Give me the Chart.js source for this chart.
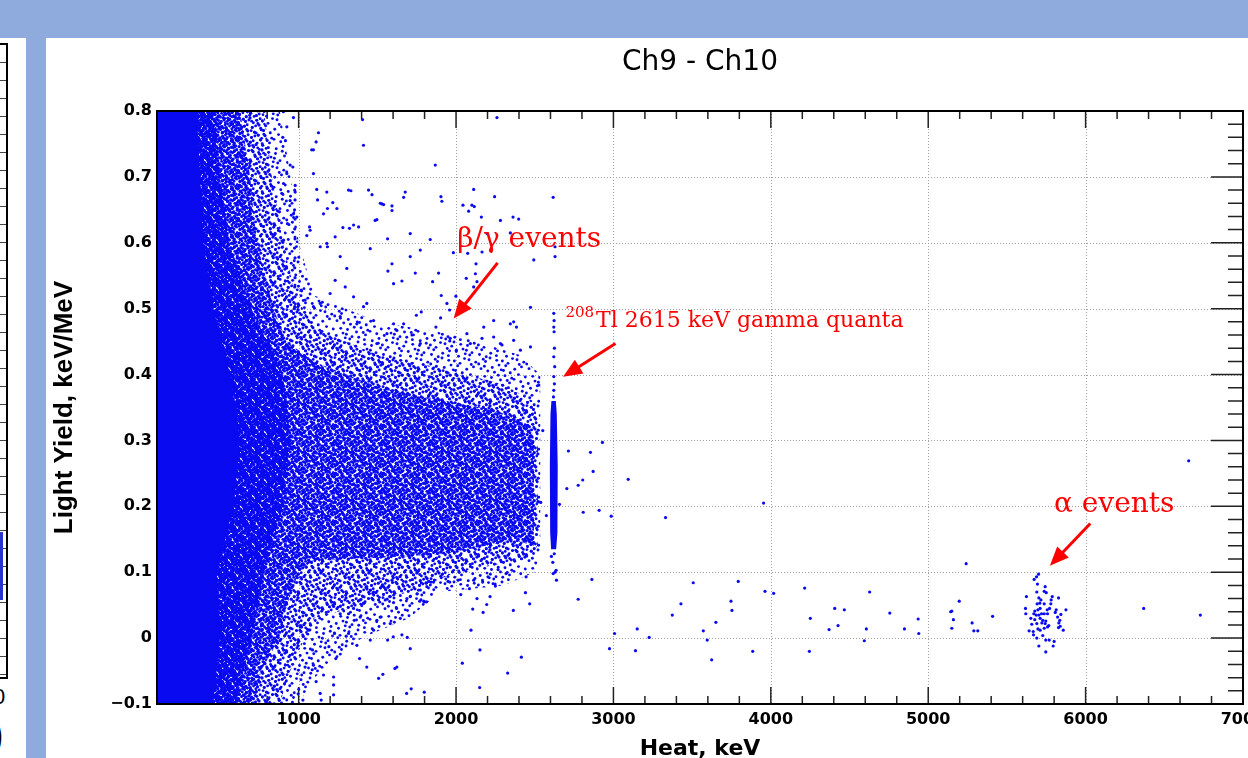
<!DOCTYPE html>
<html>
<head>
<meta charset="utf-8">
<script src="https://cdn.jsdelivr.net/npm/chart.js@4.4.0/dist/chart.umd.min.js"></script>
<style>
html, body { margin: 0; padding: 0; width: 1248px; height: 758px; overflow: hidden; background: #fff; }
body { position: relative; }
#band { position: absolute; left: 0; top: 0; width: 1248px; height: 38px; background: #8faadc; }
#strip { position: absolute; left: 26px; top: 38px; width: 20px; height: 720px; background: #8faadc; }
#sidebox { position: absolute; left: -20px; top: 43px; width: 24px; height: 632px; border: 2px solid #000;
  background: repeating-linear-gradient(to bottom, #fff 0, #fff 17px, #444 17px, #444 18px); }
#sideline { position: absolute; left: 0; top: 532px; width: 3px; height: 68px; background: #2a35d0; }
#side0 { position: absolute; left: -7px; top: 684px; font: 22px 'Liberation Sans'; }
#sidep { position: absolute; left: -9px; top: 714px; font: bold 36px 'Liberation Sans'; }
#wrap { position: absolute; left: 46px; top: 38px; width: 1240px; height: 760px; }
</style>
</head>
<body>
<div id="band"></div>
<div id="strip"></div>
<div id="sidebox"></div>
<div id="sideline"></div>
<div id="side0">0</div>
<div id="sidep">)</div>
<div id="wrap"><canvas id="chart" width="1240" height="760"></canvas></div>
<script>
// axis ticks
var xTicks = [1000, 2000, 3000, 4000, 5000, 6000, 7000];
var xTickLabels = ['1000', '2000', '3000', '4000', '5000', '6000', '7000'];
var yTicks = [-0.1, 0, 0.1, 0.2, 0.3, 0.4, 0.5, 0.6, 0.7, 0.8];
var yTickLabels = ['\u22120.1', '0', '0.1', '0.2', '0.3', '0.4', '0.5', '0.6', '0.7', '0.8'];

// density outlines of the crowded part of the cloud (heat keV, light yield)
var solidRegion = [[100,-0.1],[458,-0.1],[500,0.0],[480,0.1],[586,0.2],[628,0.3],[565,0.4],[458,0.5],[395,0.6],[374,0.7],[352,0.8],[100,0.8],[100,-0.1]];
var heavyRegion = [[100,-0.1],[600,-0.1],[700,0.0],[780,0.1],[900,0.2],[950,0.3],[900,0.4],[700,0.5],[560,0.6],[500,0.7],[470,0.8],[100,0.8],[100,-0.1]];
var denseRegion = [[100,-0.1],[720,-0.1],[760,-0.05],[880,0.0],[925,0.05],[1000,0.1],[1094,0.118],[1518,0.122],[1942,0.128],[2366,0.149],[2495,0.14],[2495,0.30],[2472,0.322],[2260,0.345],[1942,0.36],[1518,0.38],[1094,0.42],[925,0.45],[840,0.5],[734,0.6],[692,0.7],[628,0.8],[100,0.8],[100,-0.1]];
var mediumRegion = [[100,-0.1],[880,-0.1],[930,-0.06],[1000,-0.02],[1100,0.03],[1400,0.05],[1700,0.07],[2000,0.1],[2450,0.12],[2520,0.14],[2520,0.33],[2490,0.36],[2300,0.385],[1900,0.41],[1500,0.43],[1100,0.47],[980,0.52],[900,0.6],[830,0.7],[780,0.8],[100,0.8],[100,-0.1]];
var lightRegion = [[100,-0.1],[1000,-0.1],[1100,-0.06],[1200,-0.04],[1400,0.0],[1700,0.03],[1900,0.07],[2300,0.08],[2500,0.1],[2535,0.13],[2535,0.4],[2400,0.43],[2000,0.46],[1500,0.48],[1100,0.52],[1000,0.6],[950,0.7],[880,0.8],[100,0.8],[100,-0.1]];
var tlCore = [[2604,0.135],[2598,0.16],[2596,0.26],[2600,0.34],[2606,0.36],[2634,0.36],[2640,0.34],[2646,0.26],[2644,0.16],[2636,0.135],[2604,0.135]];

// single events
var highPts = [[903,0.799],[967,0.79],[925,0.776],[899,0.76],[916,0.755],[946,0.718],[963,0.715],[925,0.705],[904,0.69],[893,0.675],[978,0.687],[978,0.677],[946,0.664],[878,0.647],[967,0.644],[988,0.639],[929,0.629],[850,0.614],[904,0.604],
  [1406,0.787],[1412,0.748],[1126,0.767],[1111,0.753],[1094,0.741],[1083,0.741],[1094,0.705],[1868,0.718],[2260,0.79],[1904,0.67],[1910,0.663],[2112,0.681],[2245,0.67],[2362,0.639],[1529,0.659],[1540,0.658],[1593,0.656],[1593,0.649],[1497,0.635],[1677,0.677],[1444,0.68],[1317,0.68],[1332,0.679],[1179,0.677],[1115,0.681],[1120,0.665],[1243,0.652],[1349,0.627],[1281,0.623],[1381,0.624],[1232,0.609],[1069,0.624],[1052,0.611],[1183,0.594],[1264,0.579],[1306,0.561],[1567,0.557],[1593,0.568],[1603,0.538],[1656,0.542],[1709,0.579],[1741,0.554],[1773,0.589],[1836,0.605],[1851,0.541],[1889,0.554],[1983,0.585],[2065,0.546],[2112,0.533],[2074,0.584],[2127,0.568],[2165,0.586],[2197,0.614],[2345,0.615],[2101,0.657],[1906,0.52],[1942,0.508],[1959,0.498],[1902,0.486],[1872,0.472],[1779,0.495],[1748,0.49],[1667,0.477],[1624,0.467],[1561,0.462],[1476,0.482],[1412,0.503],[1433,0.508],[1349,0.518],[1296,0.533],[1232,0.543],[1200,0.523],[1137,0.508],[1094,0.503],[1041,0.513],[1016,0.528],[1264,0.488],[1370,0.477],[1497,0.447],[1603,0.477],[1720,0.46],[1773,0.447],[1963,0.455],[2002,0.437],[2069,0.462],[2091,0.447],[2165,0.455],[2239,0.482],[2282,0.447],[2366,0.452],[2366,0.48],
  [2044,0.657],[2080,0.648],[2116,0.655],[2161,0.639],[2282,0.634],[2398,0.636],[2494,0.574],[2473,0.502],[2123,0.553],[2133,0.541],[1999,0.519],[2176,0.472],[2345,0.477],[2384,0.472],[1960,0.451],[2239,0.457],[2292,0.445],[2409,0.437],[2526,0.384],[2473,0.442],
  [1217,0.661],[1183,0.652],[1158,0.644],[1466,0.673],[1519,0.66],[1667,0.669],[1486,0.634],[1709,0.614],[1565,0.606],[1323,0.622],[1179,0.599],[1137,0.594],[1455,0.591],[1073,0.619],
  [975,0.68],[977,0.665],[974,0.65],[977,0.636],[975,0.621],[977,0.606],[974,0.592],[977,0.577],[975,0.562],[977,0.547],[975,0.533],[977,0.518],[975,0.503]];
var lowPts = [[1709,-0.016],[1690,0.001],[1601,0.002],[1565,-0.003],[1508,0.058],[1455,-0.003],[1433,-0.044],[1508,-0.061],[1535,-0.055],[1387,-0.031],[1370,-0.011],[1624,-0.044],[1612,-0.046],[1715,-0.077],[1686,-0.084],[1302,0.003],[1317,0.007],[1228,0.007],[1192,-0.013],[1236,-0.031],[1222,-0.059],[1222,-0.071],[1222,-0.086],[1137,-0.084],[1143,-0.094],[1158,-0.056],[1111,-0.066],[1086,-0.048],[1041,-0.044],[1027,-0.094],[1094,-0.041],[1063,0.012],[1010,0.017],[1088,-0.018],
  [1779,0.084],[1809,0.084],[1769,0.056],[1794,0.056],[1857,0.085],[1949,0.086],
  [1317,0.037],[1349,0.045],[1412,0.053],[1497,0.027],[1518,0.032],[1550,0.058],[1578,0.063],[1603,0.054],[1622,0.045],[1688,0.06],[1709,0.063],[1752,0.067],[1773,0.073],[1826,0.086],[1476,0.07],[1540,0.078],[1593,0.088],[1433,0.078],[1391,0.058],[1353,0.027],[1264,0.037],[1222,0.048],[1391,0.032],[1476,0.012],[1582,0.022],[1646,0.03],[1656,0.005],
  [2445,0.093],[2441,0.069],[2468,0.052],[2364,0.042],[2318,0.098],[2248,0.082],[2250,0.079],[2216,0.063],[2195,0.051],[2172,0.039],[2106,0.044],[2133,0.06],[2112,0.088],[2085,0.075],[2030,0.066],[2013,0.088],[2169,0.085],[2095,0.012],[2152,-0.018],[2040,-0.038],[2415,-0.029],[2328,-0.053],[2150,-0.075],[1798,-0.082],[1960,0.085],[1841,0.085],[1815,0.078],[1800,0.055],[1812,0.055],[1792,0.108],[2267,0.104],[2203,0.093]];
var tlLinePts = [[2617,0.669],[2629,0.594],[2629,0.579],[2621,0.493],[2623,0.482],[2621,0.472],[2623,0.465],[2625,0.44],[2621,0.427],[2627,0.412],[2621,0.397],[2625,0.386],[2621,0.376],[2619,0.366],[2617,0.098],[2629,0.1],[2636,0.103],[2638,0.088],[2606,0.124],[2624,0.128],[2615,0.115],
  [2574,0.186],[2538,0.206],[2551,0.315],[2523,0.207]];
var farPts = [[2930,0.297],[2714,0.284],[2854,0.282],[2871,0.253],[2805,0.24],[2776,0.232],[2704,0.227],[3094,0.241],[2657,0.203],[2808,0.191],[2909,0.194],[2986,0.185],[3954,0.205],[3331,0.183],[2863,0.089],[2776,0.059],[3507,0.084],[3793,0.086],[3429,0.052],[3374,0.035],[3747,0.056],[3753,0.042],[3963,0.071],[4018,0.068],[4215,0.076],[4251,0.03],[4370,0.013],[3651,0.024],[3571,0.011],[3596,-0.003],[3151,0.014],[3227,0.001],[3007,0.007],[2975,-0.016],[3140,-0.019],[3624,-0.033],[3885,-0.02],[4245,-0.02],
  [6655,0.269],[6369,0.045],[6729,0.035],[5241,0.113],[5197,0.056],[5143,0.04],[5150,0.041],[5160,0.028],[5150,0.015],[5279,0.023],[5290,0.011],[5315,0.011],[5409,0.033],[4628,0.07],[4756,0.038],[4406,0.045],[4467,0.043],[4427,0.019],[4607,0.014],[4594,-0.004],[4849,0.014],[4936,0.029],[4940,0.007]];
var alphaPts = [[5673,0.089],[5688,0.093],[5701,0.097],[5694,0.082],[5743,0.078],[5690,0.07],[5737,0.071],[5750,0.069],[5624,0.063],[5703,0.061],[5716,0.058],[5788,0.063],[5828,0.061],[5709,0.053],[5692,0.052],[5737,0.052],[5779,0.052],[5618,0.045],[5677,0.041],[5697,0.043],[5711,0.045],[5756,0.043],[5771,0.045],[5813,0.043],[5875,0.043],[5620,0.037],[5671,0.037],[5686,0.035],[5703,0.035],[5720,0.037],[5737,0.037],[5758,0.037],[5843,0.036],[5652,0.03],[5677,0.028],[5711,0.03],[5728,0.027],[5747,0.026],[5822,0.032],[5658,0.021],[5690,0.022],[5722,0.023],[5743,0.022],[5766,0.019],[5830,0.023],[5839,0.018],[5641,0.011],[5667,0.01],[5697,0.014],[5711,0.012],[5737,0.015],[5758,0.017],[5858,0.012],[5669,0.005],[5690,0.0],[5728,0.004],[5747,-0.003],[5769,-0.003],[5800,-0.005],[5703,-0.012],[5794,-0.012],[5747,-0.021],[5828,0.016],[5836,0.027],[5807,0.039],[5781,0.058]];

var blue = '#0a0af0';
var red = '#ff0000';

function toXY(arr) {
    return arr.map(function (p) { return { x: p[0], y: p[1] }; });
}

// speckle texture for the crowded regions: a tile of evenly spread dots (Halton layout)
function halton(i, b) {
    let f = 1, r = 0;
    while (i > 0) {
        f = f / b;
        r += f * (i % b);
        i = Math.floor(i / b);
    }
    return r;
}
function makePattern(count) {
    let size = 48;
    let c = document.createElement('canvas');
    c.width = size;
    c.height = size;
    let g = c.getContext('2d');
    g.fillStyle = blue;
    for (let n = 1; n <= count; n++) {
        let px = halton(n, 2) * size, py = halton(n, 3) * size;
        for (let dx = -size; dx <= size; dx += size) {
            for (let dy = -size; dy <= size; dy += size) {
                g.beginPath();
                g.arc(px + dx, py + dy, 1.45, 0, Math.PI * 2);
                g.fill();
            }
        }
    }
    return g.createPattern(c, 'repeat');
}

function regionSet(arr, fillStyle, order) {
    return {
        type: 'line', data: toXY(arr), showLine: true, fill: 'shape',
        backgroundColor: fillStyle, borderColor: 'rgba(0,0,0,0)', borderWidth: 0,
        pointRadius: 0, pointHoverRadius: 0, clip: 0, order: order, tension: 0
    };
}
function pointSet(arr) {
    return {
        data: toXY(arr), backgroundColor: blue, borderWidth: 0,
        pointRadius: 1.6, pointHoverRadius: 1.6, clip: 0, order: 0
    };
}

function drawArrow(ctx, x1, y1, x2, y2) {
    let ang = Math.atan2(y2 - y1, x2 - x1);
    let hl = 19, hw = 8;
    let bx = x2 - hl * Math.cos(ang), by = y2 - hl * Math.sin(ang);
    ctx.beginPath();
    ctx.moveTo(x1, y1);
    ctx.lineTo(bx + 4 * Math.cos(ang), by + 4 * Math.sin(ang));
    ctx.stroke();
    ctx.beginPath();
    ctx.moveTo(x2, y2);
    ctx.lineTo(bx - hw * Math.sin(ang), by + hw * Math.cos(ang));
    ctx.lineTo(bx + hw * Math.sin(ang), by - hw * Math.cos(ang));
    ctx.closePath();
    ctx.fill();
}

var arrows = [[[2264,0.5695],[1985,0.485]], [[3013,0.447],[2680,0.3966]], [[6030,0.174],[5773,0.1097]]];

var frameDeco = {
    id: 'frameDeco',
    beforeDatasetsDraw(chart) {
        let ctx = chart.ctx, a = chart.chartArea, sx = chart.scales.x, sy = chart.scales.y;
        ctx.save();
        ctx.strokeStyle = '#a0a0a0';
        ctx.lineWidth = 1;
        ctx.setLineDash([1, 2]);
        ctx.beginPath();
        for (let i = 0; i < xTicks.length - 1; i++) {
            let p = Math.round(sx.getPixelForValue(xTicks[i])) + 0.5;
            ctx.moveTo(p, a.top);
            ctx.lineTo(p, a.bottom);
        }
        for (let i = 1; i < yTicks.length - 1; i++) {
            let p = Math.round(sy.getPixelForValue(yTicks[i])) + 0.5;
            ctx.moveTo(a.left, p);
            ctx.lineTo(a.right, p);
        }
        ctx.stroke();
        ctx.setLineDash([]);
        // tick marks sit under the points, like the original
        ctx.strokeStyle = '#222';
        ctx.lineWidth = 1.5;
        ctx.beginPath();
        for (let v = 200; v < 7000; v += 200) {
            let len = (v % 1000 === 0) ? 17 : 8;
            let p = sx.getPixelForValue(v);
            ctx.moveTo(p, a.bottom); ctx.lineTo(p, a.bottom - len);
            ctx.moveTo(p, a.top); ctx.lineTo(p, a.top + len);
        }
        for (let i = -4; i < 40; i++) {
            let len = (i % 5 === 0) ? 32 : 15;
            let p = sy.getPixelForValue(i * 0.02);
            ctx.moveTo(a.left, p); ctx.lineTo(a.left + len, p);
            ctx.moveTo(a.right, p); ctx.lineTo(a.right - len, p);
        }
        ctx.stroke();
        ctx.restore();
    },
    afterDatasetsDraw(chart) {
        let ctx = chart.ctx, a = chart.chartArea;
        ctx.save();
        ctx.strokeStyle = '#000';
        ctx.lineWidth = 2;
        ctx.strokeRect(a.left, a.top, a.right - a.left, a.bottom - a.top);
        ctx.restore();
    },
    afterDraw(chart) {
        let ctx = chart.ctx, sx = chart.scales.x, sy = chart.scales.y;
        ctx.save();
        ctx.fillStyle = red;
        ctx.strokeStyle = red;
        ctx.lineWidth = 3;
        arrows.forEach(function (ar) {
            drawArrow(ctx, sx.getPixelForValue(ar[0][0]), sy.getPixelForValue(ar[0][1]),
                sx.getPixelForValue(ar[1][0]), sy.getPixelForValue(ar[1][1]));
        });
        ctx.textBaseline = 'alphabetic';
        ctx.textAlign = 'left';
        ctx.font = '28px "DejaVu Serif"';
        ctx.fillText('\u03b2/\u03b3 events', sx.getPixelForValue(2008), sy.getPixelForValue(0.593));
        ctx.fillText('\u03b1 events', sx.getPixelForValue(5799), sy.getPixelForValue(0.191));
        let tx = sx.getPixelForValue(2695), ty = sy.getPixelForValue(0.472);
        ctx.font = '15px "DejaVu Serif"';
        ctx.fillText('208', tx, ty - 10);
        let w = ctx.measureText('208').width;
        ctx.font = '22px "DejaVu Serif"';
        ctx.fillText('Tl 2615 keV gamma quanta', tx + w + 2, ty);
        ctx.restore();
    }
};

var ctx = document.getElementById('chart').getContext('2d');
window.chart = new Chart(ctx, {
    type: 'scatter',
    data: {
        datasets: [
            regionSet(lightRegion, makePattern(70), 5),
            regionSet(mediumRegion, makePattern(160), 4),
            regionSet(denseRegion, makePattern(330), 3),
            regionSet(heavyRegion, makePattern(520), 2),
            regionSet(solidRegion, blue, 1),
            regionSet(tlCore, blue, 1),
            pointSet(highPts),
            pointSet(lowPts),
            pointSet(tlLinePts),
            pointSet(farPts),
            pointSet(alphaPts)
        ]
    },
    options: {
        responsive: false,
        animation: false,
        events: [],
        layout: { padding: { left: 0, right: 43, top: 0, bottom: 0 } },
        plugins: {
            legend: { display: false },
            tooltip: { enabled: false },
            title: {
                display: true, fullSize: false, text: 'Ch9 - Ch10', color: '#000',
                font: { family: 'DejaVu Sans', size: 28, weight: 'normal', lineHeight: 1.2 },
                padding: { top: 8, bottom: 31.4 }
            }
        },
        scales: {
            x: {
                type: 'linear', min: 100, max: 7000,
                afterBuildTicks: function (s) { s.ticks = xTicks.map(function (v) { return { value: v }; }); },
                afterFit: function (s) { s.height = 94; },
                grid: { display: false, drawTicks: false },
                border: { display: false },
                ticks: {
                    color: '#000', padding: 6, maxRotation: 0, autoSkip: false,
                    font: { family: 'DejaVu Sans', size: 16, weight: 'bold' },
                    callback: function (v, i) { return xTickLabels[i]; }
                },
                title: {
                    display: true, text: 'Heat, keV', color: '#000',
                    font: { family: 'DejaVu Sans', size: 22, weight: 'bold', lineHeight: 1.2 },
                    padding: { top: 0, bottom: 36 }
                }
            },
            y: {
                type: 'linear', min: -0.1, max: 0.8,
                afterBuildTicks: function (s) { s.ticks = yTicks.map(function (v) { return { value: v }; }); },
                afterFit: function (s) { s.width = 111; },
                grid: { display: false, drawTicks: false },
                border: { display: false },
                ticks: {
                    color: '#000', padding: 5, autoSkip: false,
                    font: { family: 'DejaVu Sans', size: 16, weight: 'bold' },
                    callback: function (v, i) { return yTickLabels[i]; }
                },
                title: {
                    display: true, text: 'Light Yield, keV/MeV', color: '#000',
                    font: { family: 'Liberation Sans', size: 26, weight: 'bold', lineHeight: 1.2 },
                    padding: { top: 3.4, bottom: 0 }
                }
            }
        }
    },
    plugins: [frameDeco]
});
</script>
</body>
</html>
